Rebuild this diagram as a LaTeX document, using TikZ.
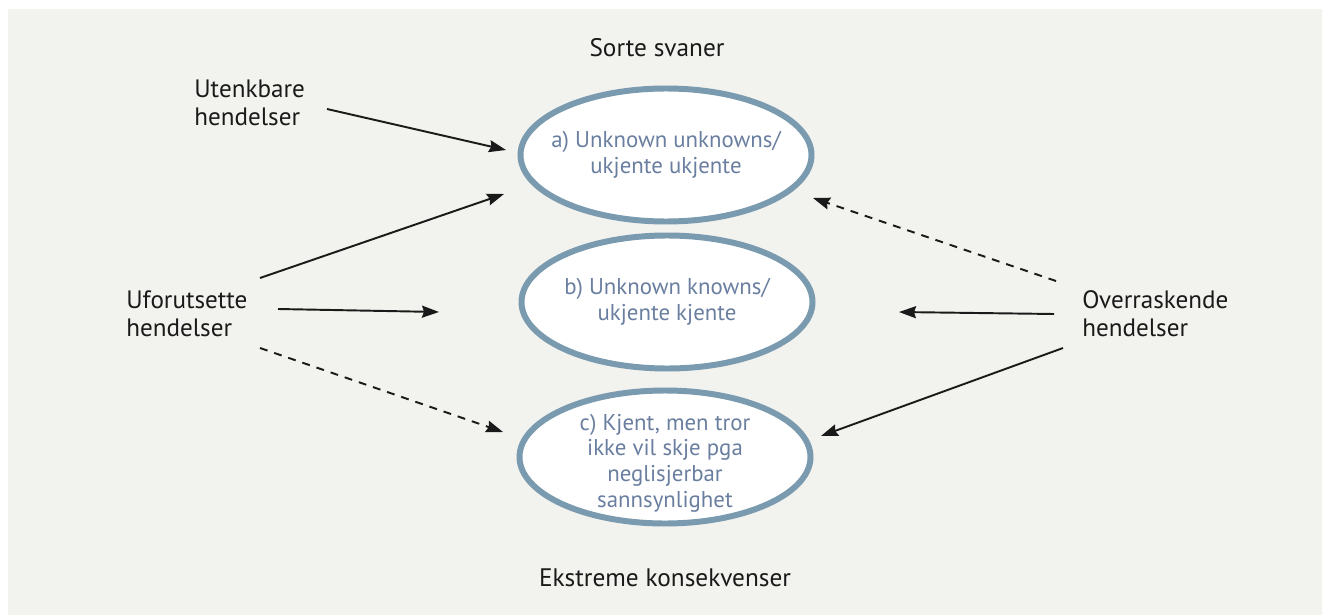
\documentclass[tikz,border=0pt]{standalone}
\usepackage{fontspec}
\setmainfont{PT Sans}
\usepackage{tikz}
\usepackage{xcolor}
\usetikzlibrary{arrows.meta,shapes.geometric}

\definecolor{panelgray}{HTML}{F2F2EE}
\definecolor{ovalblue}{HTML}{7A9AAF}
\definecolor{ovaltext}{HTML}{6A7FA0}
\definecolor{inkblack}{HTML}{1A1A1A}

\begin{document}
\begin{tikzpicture}[
    oval/.style={ellipse, draw=ovalblue, line width=3.4pt, fill=white, inner sep=0pt, minimum width=5.82cm, minimum height=2.66cm},
    ovallabel/.style={align=center, text=ovaltext, inner sep=0pt, font=\fontsize{13}{14.6}\selectfont},
    sidelabel/.style={align=left, text=inkblack, inner sep=0pt, font=\fontsize{14.3}{15.9}\selectfont},
    caption/.style={text=inkblack, inner sep=0pt, font=\fontsize{14.4}{15.9}\selectfont},
    link/.style={-{Stealth[length=0.34cm, width=0.24cm, inset=0.04cm]}, line width=1.1pt, draw=inkblack},
    maybe/.style={link, dash pattern=on 4.5pt off 4pt}
  ]
                \useasboundingbox (0, 0) rectangle (26.44, -12.3);
                \fill[panelgray] (0.16, -0.18) rectangle (26.44, -12.3);

                \node[caption] (svaner) at (13.14, -0.96) {Sorte svaner};
                \node[caption] (ekstreme) at (13.30, -11.56) {Ekstreme konsekvenser};

                \node[sidelabel, anchor=west] (utenkbare) at (3.88, -2.06) {Utenkbare\\hendelser};
                \node[sidelabel, anchor=west] (uforutsette) at (2.52, -6.28) {Uforutsette\\hendelser};
                \node[sidelabel, anchor=west] (overraskende) at (21.64, -6.28) {Overraskende\\hendelser};

                \node[oval] (ua) at (13.32, -3.10) {};
                \node[oval] (ub) at (13.34, -6.04) {};
                \node[oval] (uc) at (13.30, -9.14) {};

                \node[ovallabel] (uatext) at (ua) {a) Unknown unknowns/\\ukjente ukjente};
                \node[ovallabel] (ubtext) at (ub) {b) Unknown knowns/\\ukjente kjente};
                \node[ovallabel, yshift=-0.12cm] (uctext) at (uc) {c) Kjent, men tror\\ikke vil skje pga\\neglisjerbar\\sannsynlighet};

                % free ends of the arrows
                \coordinate (t1) at (6.54, -2.18);  \coordinate (h1) at (10.12, -3.00);
                \coordinate (t2) at (5.20, -5.56);  \coordinate (h2) at (10.08, -3.88);
                \coordinate (t3) at (5.56, -6.18);  \coordinate (h3) at (8.78, -6.24);
                \coordinate (t4) at (5.20, -6.96);  \coordinate (h4) at (10.06, -8.64);
                \coordinate (t5) at (21.12, -5.62); \coordinate (h5) at (16.26, -3.96);
                \coordinate (t6) at (21.08, -6.28); \coordinate (h6) at (17.98, -6.24);
                \coordinate (t7) at (21.26, -6.96); \coordinate (h7) at (16.42, -8.72);

                \draw[link] (t1) -- (h1);
                \draw[link] (t2) -- (h2);
                \draw[link] (t3) -- (h3);
                \draw[maybe] (t4) -- (h4);
                \draw[maybe] (t5) -- (h5);
                \draw[link] (t6) -- (h6);
                \draw[link] (t7) -- (h7);
            \end{tikzpicture}
\end{document}
